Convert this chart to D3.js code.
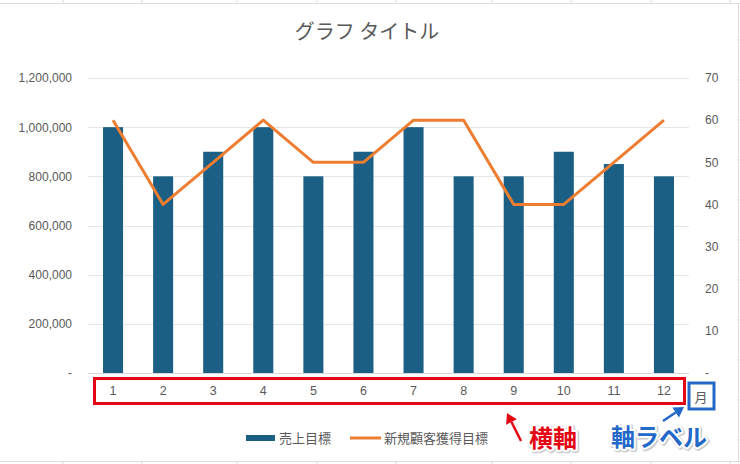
<!DOCTYPE html>
<html><head><meta charset="utf-8">
<script src="https://cdn.jsdelivr.net/npm/d3@7"></script>
<style>
html,body{margin:0;padding:0;background:#fff;}
svg{display:block;}
</style></head>
<body>
<svg id="c" width="740" height="464"></svg>
<script>
const months = ["1","2","3","4","5","6","7","8","9","10","11","12"];
const salesTarget = [1000000,800000,900000,1000000,800000,900000,1000000,800000,800000,900000,850000,800000];
const newCustomerTarget = [60,40,50,60,50,50,60,60,40,40,50,60];
const leftTicks = [0,200000,400000,600000,800000,1000000,1200000];
const rightTicks = [0,10,20,30,40,50,60,70];
const seriesNames = ["売上目標","新規顧客獲得目標"];
const titleText = "グラフ タイトル";
const axisLabelText = "月";

(function(){
const svg = d3.select("#c");
const FONT = "'Liberation Sans','Noto Sans CJK JP',sans-serif";
const JFONT = "'Noto Sans CJK JP',sans-serif";
const textCol = "#595959";

// spreadsheet background grid
const g0 = svg.append("g");
g0.append("rect").attr("x",0).attr("y",0).attr("width",740).attr("height",464).attr("fill","#fff");
[63,142,237,317,396,492,571,651,730].forEach(x=>{
  g0.append("line").attr("x1",x).attr("x2",x).attr("y1",0).attr("y2",3).attr("stroke","#dcdcdc");
  g0.append("line").attr("x1",x).attr("x2",x).attr("y1",461).attr("y2",464).attr("stroke","#dcdcdc");
});
g0.append("line").attr("x1",0).attr("x2",740).attr("y1",3.5).attr("y2",3.5).attr("stroke","#dcdcdc");
g0.append("line").attr("x1",0).attr("x2",740).attr("y1",461.5).attr("y2",461.5).attr("stroke","#dcdcdc");
g0.append("line").attr("x1",738.5).attr("x2",738.5).attr("y1",3).attr("y2",462).attr("stroke","#dcdcdc");
[40,80,120,160,200,240,280,320,360,400,440].forEach(y=>{
  g0.append("line").attr("x1",739).attr("x2",740).attr("y1",y).attr("y2",y).attr("stroke","#dcdcdc");
});

const pLeft = 88, pRight = 689, pTop = 78, pBottom = 373;
const x = d3.scaleBand().domain(months).range([pLeft,pRight]).paddingInner(0.6).paddingOuter(0.3);
const yL = d3.scaleLinear().domain([0,1200000]).range([pBottom,pTop]);
const yR = d3.scaleLinear().domain([0,70]).range([pBottom,pTop]);

// title
svg.append("text").attr("x",367).attr("y",39).attr("text-anchor","middle")
  .attr("font-family",JFONT).attr("font-size",20).attr("fill",textCol).text(titleText);

// gridlines
const grid = svg.append("g");
leftTicks.forEach(t=>{
  grid.append("line").attr("x1",pLeft).attr("x2",pRight).attr("y1",Math.round(yL(t))+0.5).attr("y2",Math.round(yL(t))+0.5)
    .attr("stroke", t===0 ? "#d9d9d9" : "#e6e6e6").attr("stroke-width",1);
});

// left axis labels
const fmt = d3.format(",");
const leftAxis = d3.axisLeft(yL).tickValues(leftTicks).tickSize(0).tickPadding(0)
  .tickFormat(d=> d===0 ? "-" : fmt(d));
const la = svg.append("g").attr("transform",`translate(72,0)`).call(leftAxis);
la.select(".domain").remove();
la.selectAll("text").attr("font-family",FONT).attr("font-size",12).attr("fill",textCol);

const rightAxis = d3.axisRight(yR).tickValues(rightTicks).tickSize(0).tickPadding(0)
  .tickFormat(d=> d===0 ? "-" : d);
const ra = svg.append("g").attr("transform",`translate(705,0)`).call(rightAxis);
ra.select(".domain").remove();
ra.selectAll("text").attr("font-family",FONT).attr("font-size",12).attr("fill",textCol);

// bars
svg.append("g").selectAll("rect").data(salesTarget).join("rect")
  .attr("x",(d,i)=>x(months[i])).attr("width",x.bandwidth())
  .attr("y",d=>yL(d)).attr("height",d=>pBottom-yL(d)).attr("fill","#1b5f84");

// line
const line = d3.line().x((d,i)=>x(months[i])+x.bandwidth()/2).y(d=>yR(d));
svg.append("path").datum(newCustomerTarget).attr("d",line).attr("fill","none")
  .attr("stroke","#ed7d31").attr("stroke-width",3).attr("stroke-linejoin","round");

// x axis labels
const bottomAxis = d3.axisBottom(x).tickSize(0).tickPadding(0);
const ba = svg.append("g").attr("transform",`translate(0,386)`).call(bottomAxis);
ba.select(".domain").remove();
ba.selectAll("text").attr("font-family",FONT).attr("font-size",12.5).attr("fill",textCol);

// axis title
svg.append("text").attr("x",701).attr("y",402).attr("text-anchor","middle")
  .attr("font-family",JFONT).attr("font-size",13).attr("fill",textCol).text(axisLabelText);

// legend
const lg = svg.append("g");
lg.append("rect").attr("x",246).attr("y",435).attr("width",29).attr("height",6).attr("fill","#1b5f84");
lg.append("text").attr("x",279).attr("y",443).attr("font-family",JFONT).attr("font-size",13).attr("fill",textCol).text(seriesNames[0]);
lg.append("line").attr("x1",350).attr("x2",381).attr("y1",438).attr("y2",438).attr("stroke","#ed7d31").attr("stroke-width",3);
lg.append("text").attr("x",384).attr("y",443).attr("font-family",JFONT).attr("font-size",13).attr("fill",textCol).text(seriesNames[1]);

// annotations
const an = svg.append("g");
an.append("rect").attr("x",94.5).attr("y",378.5).attr("width",590).attr("height",25).attr("fill","none")
  .attr("stroke","#e30613").attr("stroke-width",3);
an.append("rect").attr("x",689).attr("y",383).attr("width",25).attr("height",26).attr("fill","none")
  .attr("stroke","#2468c8").attr("stroke-width",3);

function arrow(x1,y1,x2,y2,col){
  const ang = Math.atan2(y2-y1,x2-x1);
  const hl = 10, hw = 6;
  const bx = x2 - hl*Math.cos(ang), by = y2 - hl*Math.sin(ang);
  an.append("line").attr("x1",x1).attr("y1",y1).attr("x2",bx).attr("y2",by)
    .attr("stroke",col).attr("stroke-width",2.5);
  const px = -Math.sin(ang), py = Math.cos(ang);
  an.append("path").attr("d",`M${x2},${y2}L${bx+px*hw},${by+py*hw}L${bx-px*hw},${by-py*hw}Z`).attr("fill",col);
}
arrow(521,441,507,413,"#e30613");
arrow(663,421,684,407,"#2468c8");

function callout(tx,ty,txt,col){
  an.append("text").attr("x",tx).attr("y",ty).attr("font-family",JFONT).attr("font-weight","bold")
    .attr("font-size",24).attr("fill","none").attr("stroke","#ccc").attr("stroke-width",5)
    .attr("stroke-linejoin","round").attr("transform","translate(1,1)").text(txt);
  an.append("text").attr("x",tx).attr("y",ty).attr("font-family",JFONT).attr("font-weight","bold")
    .attr("font-size",24).attr("fill","#fff").attr("stroke","#fff").attr("stroke-width",4)
    .attr("stroke-linejoin","round").text(txt);
  an.append("text").attr("x",tx).attr("y",ty).attr("font-family",JFONT).attr("font-weight","bold")
    .attr("font-size",24).attr("fill",col).text(txt);
}
callout(529,447,"横軸","#e30613");
callout(611,446,"軸ラベル","#2468c8");
})();
</script>
</body></html>
